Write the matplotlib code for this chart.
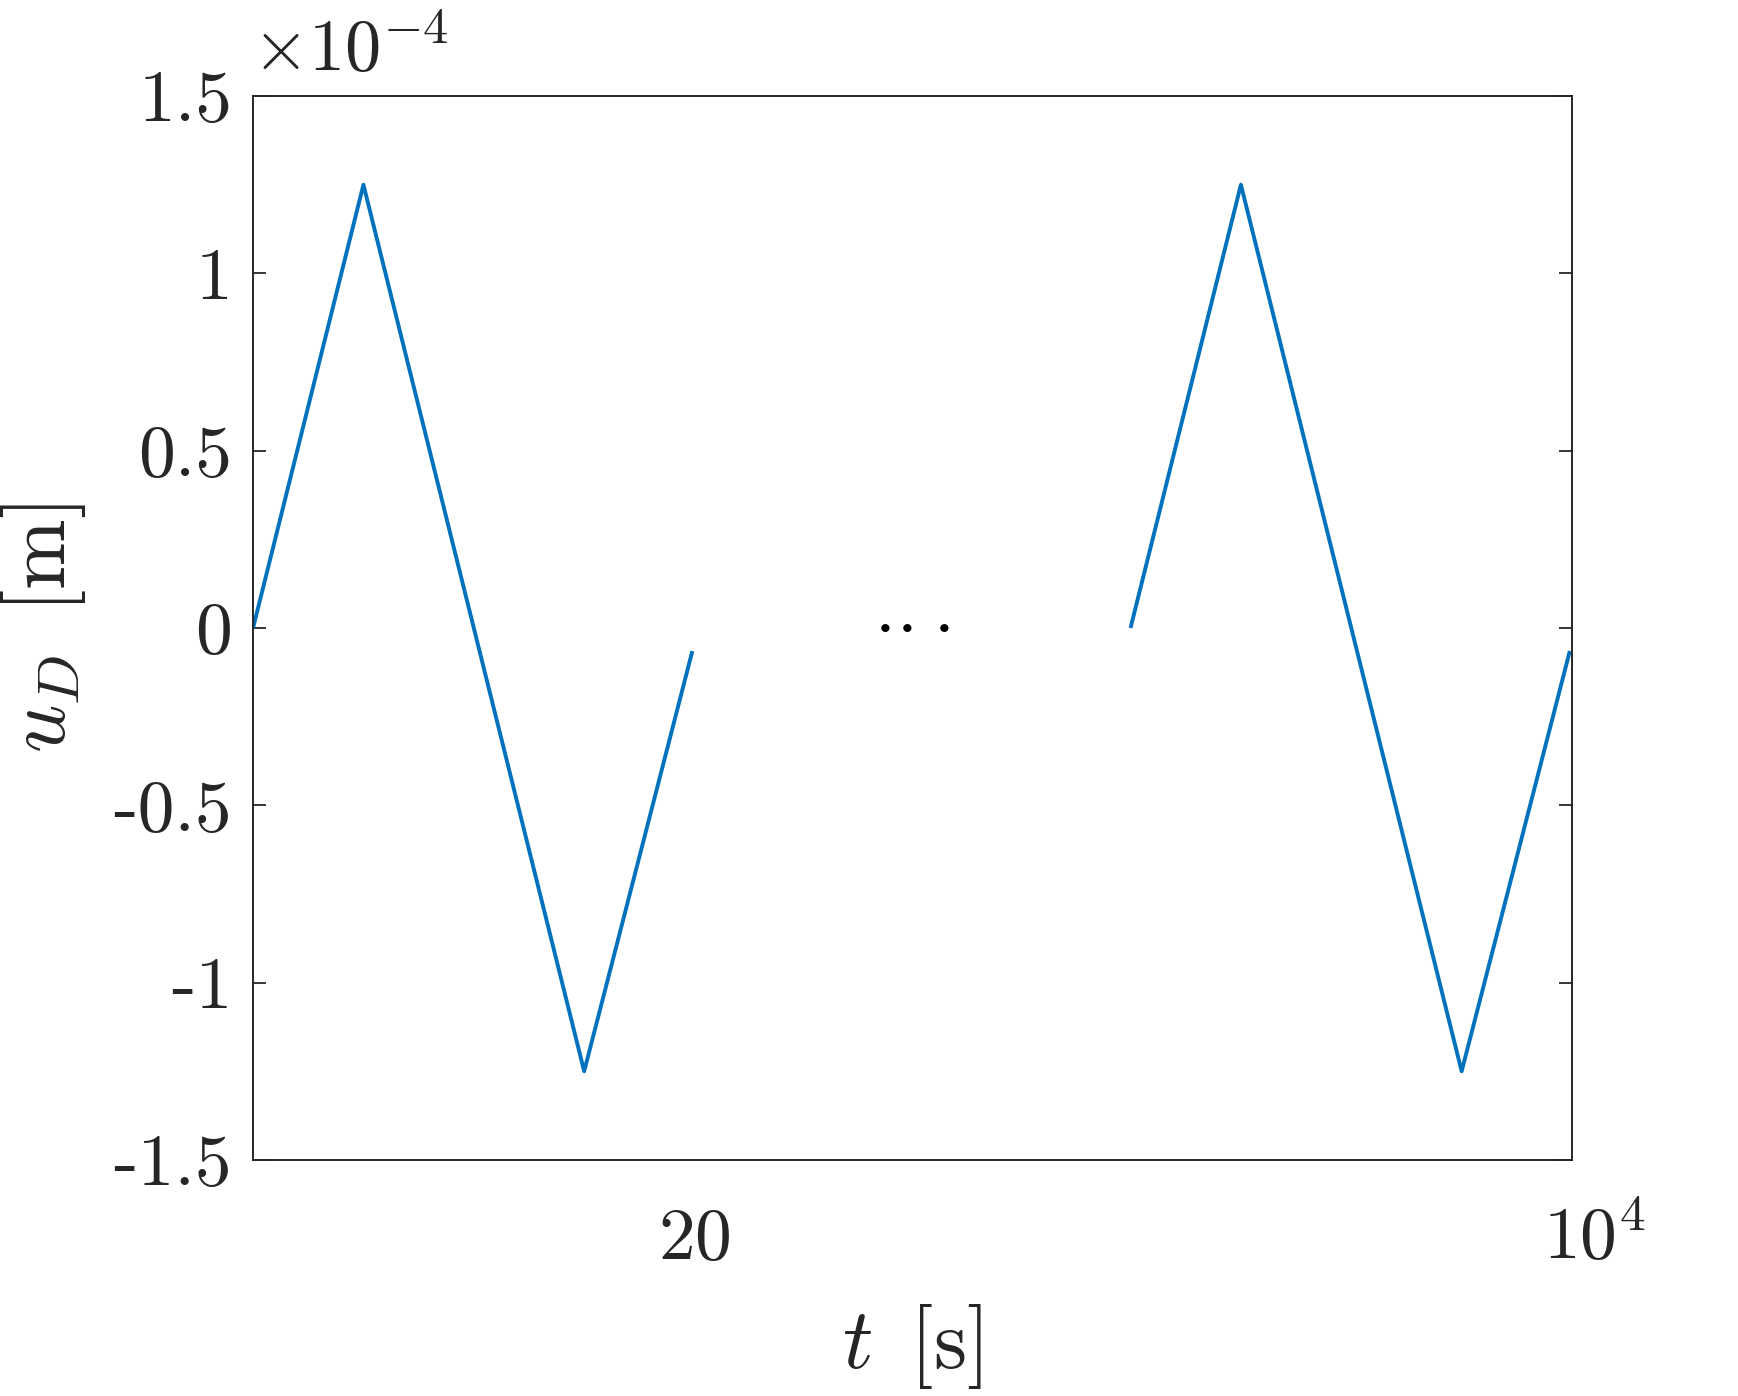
import matplotlib
matplotlib.use("Agg")
import matplotlib.pyplot as plt

plt.rcParams["font.family"] = "cmr10"
plt.rcParams["mathtext.fontset"] = "cm"
plt.rcParams["axes.unicode_minus"] = False

# tip displacement u_D in units of 1e-4 m, first and last load cycle
t_first = [0, 5, 15, 19.9]
u_first = [0, 1.25, -1.25, -0.065]
t_last = [9980, 9985, 9995, 9999.9]
u_last = [0, 1.25, -1.25, -0.065]

y_ticks = [-1.5, -1, -0.5, 0, 0.5, 1, 1.5]
y_ticklabels = ["-1.5", "-1", "-0.5", "0", "0.5", "1", "1.5"]
x_ticks = [20, 10000]
x_ticklabels = [r"$20$", r"$10^4$"]

# the gap between the two cycles is cut out of the time axis
T_END = 10000
SHIFT = 9940.25


def squeeze(t):
    return t if t <= 40 else t - SHIFT


BLUE = "#0072BD"
DARK = "#262626"
FS = 53

fig = plt.figure(figsize=(17.38, 13.96), dpi=100)
ax = fig.add_axes([0.1456, 0.1691, 0.7589, 0.7621])

for ts, us in [(t_first, u_first), (t_last, u_last)]:
    ax.plot([squeeze(t) for t in ts], us, color=BLUE, lw=2.8,
            solid_joinstyle="round", solid_capstyle="butt")
x_mid = 0.5 * (squeeze(t_first[-1]) + squeeze(t_last[0]))
ax.annotate(r"$\cdot\!\cdot\!\cdot$", xy=(x_mid, 0), xytext=(0, 1.5),
            textcoords="offset points", fontsize=54, ha="center",
            va="center")

ax.set_xlim(0, squeeze(T_END))
ax.set_ylim(-1.5, 1.5)
ax.set_yticks(y_ticks)
ax.set_yticklabels(y_ticklabels)
ax.set_xticks([squeeze(t) for t in x_ticks])
ax.set_xticklabels([])
ax.tick_params(axis="y", direction="in", length=9.7, width=1.3, color=DARK,
               right=True, labelsize=FS, pad=15, labelcolor=DARK)
ax.tick_params(axis="x", length=0)
for s in ax.spines.values():
    s.set_color(DARK)
    s.set_linewidth(1.4)

# x tick labels, baseline aligned like the original
offsets = [0, 16]
for t, lab, dx in zip(x_ticks, x_ticklabels, offsets):
    ax.annotate(lab, xy=(squeeze(t), 0), xycoords=("data", "axes fraction"),
                xytext=(dx, -71), textcoords="offset points",
                ha="center", va="baseline", fontsize=FS, color=DARK)

ax.annotate(r"$\times10^{-4}$", xy=(0, 1), xycoords="axes fraction",
            xytext=(-1, 18), textcoords="offset points",
            ha="left", va="baseline", fontsize=52, color=DARK)

ax.set_xlabel(r"$t\ \,[\mathrm{s}]$", fontsize=61, color=DARK)
ax.set_ylabel(r"$u_D\ \,[\mathrm{m}]$", fontsize=61, color=DARK)
ax.xaxis.set_label_coords(0.5, -0.134)
ax.yaxis.set_label_coords(-0.125, 0.5)

fig.savefig("out.png", dpi=100, facecolor="white")
